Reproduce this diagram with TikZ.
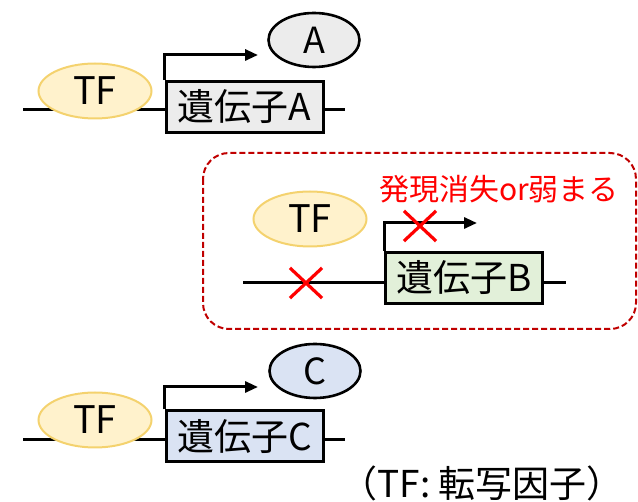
\documentclass[tikz,border=0pt]{standalone}
\usepackage{xcolor}
\usepackage{fontspec}
\setmainfont{Noto Sans CJK JP}
\usepackage{tikz}
\usetikzlibrary{shapes.geometric, shapes.misc, arrows.meta, positioning, backgrounds}
\definecolor{tfyellow}{RGB}{255, 242, 204}
\definecolor{tfgold}{RGB}{244, 210, 110}
\definecolor{geneagray}{RGB}{236, 236, 236}
\definecolor{genebgreen}{RGB}{226, 240, 217}
\definecolor{genecblue}{RGB}{218, 227, 243}
\definecolor{framered}{RGB}{192, 0, 0}

\begin{document}
\begin{tikzpicture}[x=1pt, y=-1pt,
    tf/.style={ellipse, draw=tfgold, line width=2pt, fill=tfyellow, minimum width=113pt, minimum height=55pt, inner sep=0pt, font=\fontsize{38}{42}\selectfont},
    gene/.style={rectangle, draw, line width=3pt, minimum width=157pt, minimum height=51pt, inner sep=0pt, font=\fontsize{37}{41}\selectfont},
    product/.style={ellipse, draw, line width=2.6pt, minimum width=91pt, minimum height=54pt, inner sep=0pt, font=\fontsize{36}{40}\selectfont},
    dna/.style={line width=3pt},
    tss/.style={line width=3pt, -{Triangle[length=13pt, width=11pt]}},
    redx/.style={cross out, draw=red, line width=3.2pt, minimum width=29pt, minimum height=27pt, inner sep=0pt},
    note/.style={text=red, font=\fontsize{30}{34}\selectfont},
    frame/.style={draw=framered, line width=2pt, dash pattern=on 6pt off 3pt, rounded corners=26pt}
]
\useasboundingbox (0,0) rectangle (638,502);

% gene A
\node[tf] (tfA) at (95,91) {TF};
\node[gene, fill=geneagray] (geneA) at (244.5,107) {遺伝子A};
\node[product, fill=geneagray] (protA) at (314,40) {A};
\coordinate (lA) at (23,110);
\coordinate (rA) at (345,110);
\coordinate (endA) at (258,55);
\begin{pgfonlayer}{background}
\draw[dna] (lA) -- (rA);
\end{pgfonlayer}
\draw[tss] (geneA.north west) |- (endA);

% gene B
\draw[frame] (203,153) rectangle (636,329);
\node[note] (lossB) at (499,189) {発現消失or弱まる};
\node[tf] (tfB) at (310,219) {TF};
\node[gene, fill=genebgreen] (geneB) at (464,278) {遺伝子B};
\coordinate (lB) at (243,283);
\coordinate (rB) at (566,283);
\coordinate (endB) at (477,223);
\begin{pgfonlayer}{background}
\draw[dna] (lB) -- (rB);
\end{pgfonlayer}
\draw[tss] (geneB.north west) |- (endB);
\node[redx] (xtss) at (420,226) {};
\node[redx] (xsite) at (306,283) {};

% gene C
\node[tf] (tfC) at (95,420) {TF};
\node[gene, fill=genecblue] (geneC) at (244.5,436.5) {遺伝子C};
\node[product, fill=genecblue] (protC) at (315,371) {C};
\coordinate (lC) at (23,440);
\coordinate (rC) at (345,440);
\coordinate (endC) at (258,387);
\begin{pgfonlayer}{background}
\draw[dna] (lC) -- (rC);
\end{pgfonlayer}
\draw[tss] (geneC.north west) |- (endC);

\node[font=\fontsize{37}{41}\selectfont] (legend) at (482,483) {（TF: 転写因子）};
\end{tikzpicture}
\end{document}
